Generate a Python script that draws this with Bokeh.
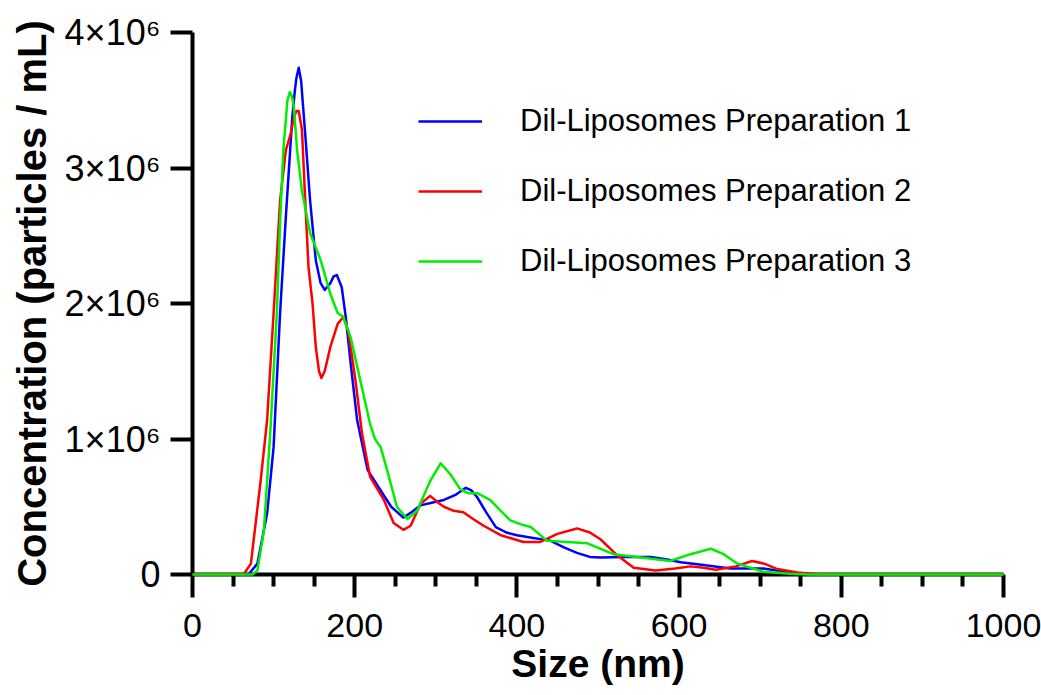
from bokeh.plotting import figure
from bokeh.models import Range1d, FixedTicker, CustomJSTickFormatter
from bokeh.embed import file_html
from bokeh.resources import INLINE

# ---------------- data (size in nm, concentration in 10^6 particles/mL) ----------------
prep1_size = [0, 60, 69, 80, 92, 100, 108, 115, 123, 126, 128, 131, 134, 136, 139, 145, 152,
              158, 163, 170, 174, 178, 184, 189, 195, 203, 216, 232, 245, 260, 270, 281, 295,
              310, 325, 337, 344, 351, 362, 374, 387, 400, 420, 441, 458, 474, 490, 503, 530,
              565, 585, 602, 630, 663, 704, 720, 737, 766, 800, 1000]
prep1_conc = [0, 0, 0, 0.08, 0.45, 0.94, 1.93, 2.63, 3.37, 3.56, 3.66, 3.74, 3.64, 3.48,
              3.25, 2.76, 2.32, 2.15, 2.10, 2.15, 2.20, 2.21, 2.12, 1.90, 1.56, 1.14, 0.77,
              0.62, 0.50, 0.42, 0.46, 0.51, 0.53, 0.55, 0.59, 0.64, 0.62, 0.57, 0.46, 0.35,
              0.31, 0.29, 0.27, 0.25, 0.20, 0.16, 0.13, 0.125, 0.13, 0.13, 0.11, 0.09, 0.07,
              0.045, 0.045, 0.03, 0.015, 0, 0, 0]

prep2_size = [0, 55, 63, 72, 84, 92, 100, 108, 115, 121, 125, 128, 131, 135, 139, 143, 148,
              152, 156, 159, 163, 170, 179, 186, 192, 201, 209, 219, 236, 248, 260, 269, 281,
              293, 303, 310, 322, 334, 346, 359, 380, 408, 429, 450, 474, 490, 503, 524, 544,
              571, 595, 614, 630, 645, 670, 690, 705, 721, 746, 774, 1000]
prep2_conc = [0, 0, 0, 0.08, 0.69, 1.14, 1.93, 2.76, 3.13, 3.25, 3.37, 3.42, 3.42, 3.28,
              2.76, 2.27, 2.00, 1.68, 1.50, 1.45, 1.50, 1.68, 1.85, 1.90, 1.80, 1.43, 1.04,
              0.72, 0.55, 0.38, 0.33, 0.36, 0.52, 0.58, 0.53, 0.50, 0.47, 0.46, 0.41, 0.36,
              0.29, 0.24, 0.24, 0.30, 0.34, 0.31, 0.26, 0.14, 0.05, 0.03, 0.045, 0.06, 0.05,
              0.035, 0.06, 0.10, 0.08, 0.04, 0.015, 0, 0]

prep3_size = [0, 65, 74, 80, 88, 96, 104, 108, 112, 117, 120, 123, 125, 129, 135, 145, 158,
              170, 179, 186, 195, 207, 219, 225, 232, 240, 252, 265, 277, 293, 306, 318, 330,
              340, 351, 367, 380, 392, 405, 417, 437, 462, 487, 519, 561, 589, 614, 639, 655,
              672, 704, 737, 760, 1000]
prep3_conc = [0, 0, 0, 0.03, 0.32, 1.06, 1.93, 2.60, 3.13, 3.50, 3.56, 3.52, 3.45, 3.13,
              2.83, 2.52, 2.32, 2.07, 1.93, 1.90, 1.75, 1.43, 1.11, 1.00, 0.94, 0.77, 0.50,
              0.41, 0.47, 0.69, 0.82, 0.74, 0.63, 0.60, 0.60, 0.55, 0.47, 0.40, 0.37, 0.35,
              0.25, 0.24, 0.23, 0.15, 0.12, 0.10, 0.15, 0.19, 0.15, 0.08, 0.02, 0.005, 0, 0]

series_labels = ["Dil-Liposomes Preparation 1", "Dil-Liposomes Preparation 2",
                 "Dil-Liposomes Preparation 3"]
series_colors = ["#0000ff", "#ff0000", "#00ee00"]

x_ticks = [0, 200, 400, 600, 800, 1000]
x_minor_ticks = [50, 100, 150, 250, 300, 350, 450, 500, 550, 650, 700, 750, 850, 900, 950]
y_ticks = [0, 1000000, 2000000, 3000000, 4000000]
y_tick_labels = ["0", "1×10⁶", "2×10⁶", "3×10⁶", "4×10⁶"]

SCALE = 1e6

FONT = "Liberation Sans"

p = figure(width=1041, height=695, output_backend="svg", toolbar_location=None,
           x_range=Range1d(0, 1000), y_range=Range1d(0, 4000000),
           min_border_left=192, min_border_right=38, min_border_top=32,
           min_border_bottom=121)
p.outline_line_color = None
p.grid.visible = False
p.background_fill_color = "white"
p.border_fill_color = "white"

data = [(prep1_size, prep1_conc), (prep2_size, prep2_conc), (prep3_size, prep3_conc)]
for (xs, ys), lab, col in zip(data, series_labels, series_colors):
    p.line(xs, [v * SCALE for v in ys], line_color=col, line_width=2.5,
           line_join="round", legend_label=lab, level="overlay")

# x axis
xa = p.xaxis[0]
xa.ticker = FixedTicker(ticks=x_ticks, minor_ticks=x_minor_ticks)
xa.axis_line_width = 4
xa.major_tick_line_width = 4
xa.minor_tick_line_width = 4
xa.major_tick_in = 0
xa.major_tick_out = 23
xa.minor_tick_in = 0
xa.minor_tick_out = 12
xa.major_label_text_font = FONT
xa.major_label_text_font_size = "34px"
xa.major_label_text_color = "black"
xa.major_label_standoff = 16
xa.axis_label = "Size (nm)"
xa.axis_label_text_font = FONT
xa.axis_label_text_font_style = "bold"
xa.axis_label_text_font_size = "39px"
xa.axis_label_text_color = "black"
xa.axis_label_standoff = 2

# y axis
ya = p.yaxis[0]
ya.ticker = FixedTicker(ticks=y_ticks, minor_ticks=[])
ya.formatter = CustomJSTickFormatter(
    args=dict(ytk=y_ticks, ylab=y_tick_labels),
    code="""
        for (let i = 0; i < ytk.length; i++) {
            if (Math.abs(ytk[i] - tick) < 1) { return ylab[i]; }
        }
        return "";
    """)
ya.axis_line_width = 4
ya.major_tick_line_width = 4
ya.major_tick_in = 0
ya.major_tick_out = 22
ya.minor_tick_line_color = None
ya.major_label_text_font = FONT
ya.major_label_text_font_size = "36px"
ya.major_label_text_color = "black"
ya.major_label_standoff = 10
ya.axis_label = "Concentration (particles / mL)"
ya.axis_label_text_font = FONT
ya.axis_label_text_font_style = "bold"
ya.axis_label_text_font_size = "40px"
ya.axis_label_text_color = "black"
ya.axis_label_standoff = 8

# legend
lg = p.legend[0]
lg.location = (226, 295)
lg.border_line_color = None
lg.background_fill_alpha = 0
lg.padding = 0
lg.margin = 0
lg.glyph_width = 64
lg.glyph_height = 20
lg.label_standoff = 38
lg.spacing = 34
lg.label_text_font = FONT
lg.label_text_font_size = "31px"
lg.label_text_color = "black"
lg.label_text_baseline = "middle"

open("out.html", "w").write(file_html(p, INLINE))
